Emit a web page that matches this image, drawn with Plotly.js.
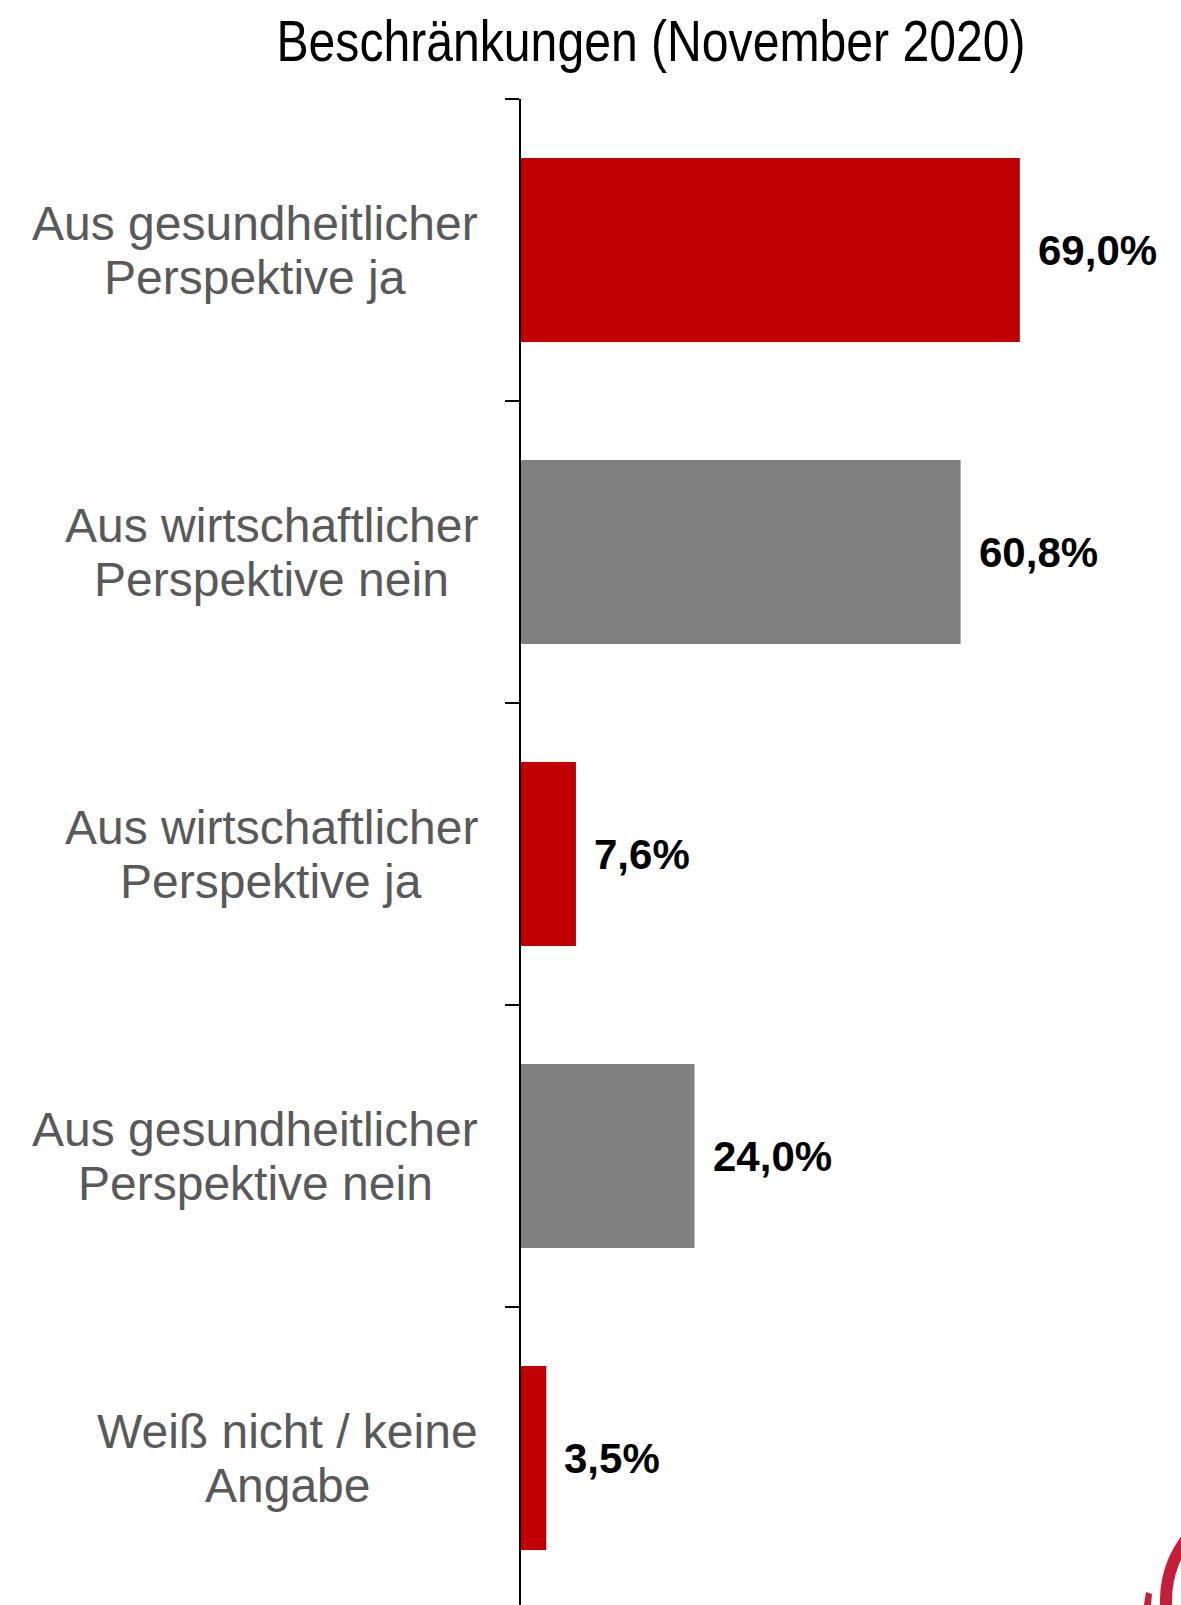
<!DOCTYPE html>
<html>
<head>
<meta charset="utf-8">
<script src="https://cdn.plot.ly/plotly-3.0.1.min.js"></script>
<style>html,body{margin:0;padding:0;background:#fff;}#chart{width:1181px;height:1605px;}</style>
</head>
<body>
<div id="chart"></div>
<script>
// ---- data ----
const categories = [
  "Aus gesundheitlicher<br>Perspektive ja",
  "Aus wirtschaftlicher<br>Perspektive nein",
  "Aus wirtschaftlicher<br>Perspektive ja",
  "Aus gesundheitlicher<br>Perspektive nein",
  "Weiß nicht / keine<br>Angabe"
];
const values = [69.0, 60.8, 7.6, 24.0, 3.5];
const valueLabels = ["69,0%", "60,8%", "7,6%", "24,0%", "3,5%"];
const barColors = ["#C00000", "#808080", "#C00000", "#808080", "#C00000"];
const chartTitle = "Beschränkungen (November 2020)";

// ---- layout constants ----
const W = 1181, H = 1605;
const ML = 521, MT = 99;
const plotW = W - ML, plotH = H - MT;
const pxPerUnit = 7.23;
const labelFont = 48;
const labelRight = 478;
const titleCenterX = 651;
const titleScaleX = 0.83;

const canvas = document.createElement("canvas");
const ctx = canvas.getContext("2d");
ctx.font = labelFont + 'px "Liberation Sans", Arial, sans-serif';

const annotations = [];
categories.forEach((cat, i) => {
  const lines = cat.split("<br>");
  const maxW = Math.max(...lines.map(l => ctx.measureText(l).width));
  const centerPx = labelRight - maxW / 2;
  const xp = (centerPx - ML) / plotW;
  const spacing = 54;
  lines.forEach((ln, j) => {
    const off = ((lines.length - 1) / 2 - j) * spacing;
    annotations.push({
      xref: "paper", yref: "y", x: xp, y: cat, text: ln,
      xanchor: "center", yanchor: "middle", yshift: off,
      showarrow: false,
      font: {family: '"Liberation Sans", Arial, sans-serif', size: labelFont, color: "#595959"}
    });
  });
  annotations.push({
    xref: "x", yref: "y", x: values[i], y: cat, text: valueLabels[i],
    xanchor: "left", yanchor: "middle", xshift: 16, showarrow: false,
    font: {family: '"Liberation Sans", Arial, sans-serif', size: 42, color: "#000000", weight: "bold"}
  });
});

// decorative logo fragment (bottom right)
function px2paperX(p){ return (p - ML) / plotW; }
function px2paperY(p){ return (H - p) / plotH; }
const shapes = [
  {type: "circle", xref: "paper", yref: "paper",
   x0: px2paperX(1166), x1: px2paperX(1366), y0: px2paperY(1700), y1: px2paperY(1500),
   line: {color: "#C41E3A", width: 12}, fillcolor: "rgba(0,0,0,0)", layer: "above"},
  {type: "path", xref: "paper", yref: "paper",
   path: "M " + px2paperX(1144) + " " + px2paperY(1605) + " L " + px2paperX(1146) + " " + px2paperY(1592) +
         " L " + px2paperX(1152) + " " + px2paperY(1594) + " L " + px2paperX(1151) + " " + px2paperY(1605) + " Z",
   fillcolor: "#C41E3A", line: {width: 0}, layer: "above"}
];

const trace = {
  type: "bar", orientation: "h",
  x: values, y: categories,
  marker: {color: barColors, line: {width: 0}},
  width: 0.61,
  hoverinfo: "none"
};

const layout = {
  width: W, height: H,
  margin: {l: ML, r: 0, t: MT, b: 0, pad: 0},
  paper_bgcolor: "#ffffff", plot_bgcolor: "#ffffff",
  showlegend: false,
  title: {
    text: chartTitle,
    font: {family: '"Liberation Sans", Arial, sans-serif', size: 58, color: "#000000"},
    xref: "container", yref: "container",
    x: titleCenterX / W, xanchor: "center",
    y: 1 - 41 / H, yanchor: "middle"
  },
  xaxis: {
    range: [0, plotW / pxPerUnit],
    visible: false, fixedrange: true
  },
  yaxis: {
    type: "category",
    categoryorder: "array", categoryarray: categories,
    range: [-0.5 + plotH / 302, -0.5],
    showticklabels: false,
    tickson: "boundaries",
    ticks: "outside", ticklen: 14, tickwidth: 2, tickcolor: "#000000",
    showline: true, linecolor: "#000000", linewidth: 2,
    showgrid: false, zeroline: false, fixedrange: true
  },
  annotations: annotations,
  shapes: shapes
};

Plotly.newPlot("chart", [trace], layout, {displayModeBar: false, staticPlot: true}).then(gd => {
  // narrow the title horizontally (reference uses a narrow sans face)
  const t = gd.querySelector(".gtitle");
  if (t) {
    t.setAttribute("transform",
      "translate(" + titleCenterX + ",0) scale(" + titleScaleX + ",1) translate(" + (-titleCenterX) + ",0)");
  }
});
</script>
</body>
</html>
